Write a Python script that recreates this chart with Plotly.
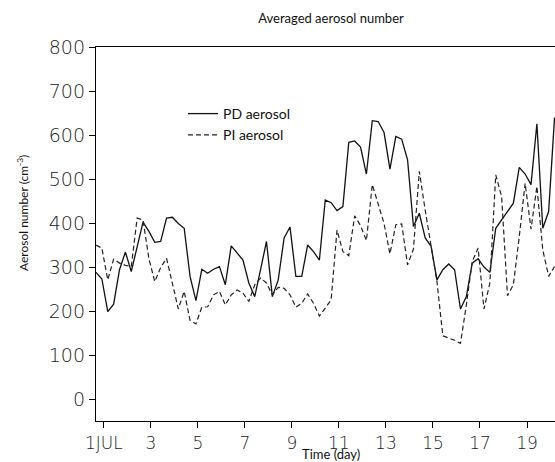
import plotly.graph_objects as go

# time axis: 6-hourly samples (day of July)
t_start = 0.67
t_step = 0.25

pd_aerosol = [289, 274, 200, 217, 295, 335, 291, 350, 403, 382,
              357, 359, 412, 414, 400, 389, 280, 225, 296, 287,
              296, 302, 261, 349, 334, 317, 265, 234, 296, 359,
              234, 272, 367, 392, 280, 280, 351, 336, 317, 453,
              447, 429, 438, 584, 587, 573, 512, 633, 631, 606,
              523, 597, 591, 544, 393, 423, 367, 348, 272, 295,
              308, 295, 206, 234, 310, 320, 301, 289, 389, 408,
              429, 446, 527, 512, 488, 626, 389, 427, 640]

pi_aerosol = [351, 344, 272, 319, 310, 305, 302, 412, 408, 320,
              268, 300, 321, 260, 206, 246, 180, 172, 210, 211,
              238, 246, 215, 238, 249, 242, 223, 261, 276, 265,
              238, 255, 253, 238, 210, 219, 240, 219, 190, 208,
              227, 385, 336, 327, 417, 395, 361, 488, 445, 400,
              331, 397, 399, 306, 342, 518, 430, 350, 268, 145,
              140, 135, 128, 215, 314, 344, 206, 265, 510, 461,
              236, 261, 370, 491, 387, 484, 340, 280, 302]

times = [t_start + t_step * i for i in range(len(pd_aerosol))]

x_tickvals = [1, 3, 5, 7, 9, 11, 13, 15, 17, 19]
x_ticktext = ["1JUL", "3", "5", "7", "9", "11", "13", "15", "17", "19"]
y_tickvals = [0, 100, 200, 300, 400, 500, 600, 700, 800]

fig = go.Figure()
fig.add_trace(go.Scatter(x=times, y=pd_aerosol, mode="lines", name="PD aerosol",
                         line=dict(color="#111111", width=1.3)))
fig.add_trace(go.Scatter(x=times, y=pi_aerosol, mode="lines", name="PI aerosol",
                         line=dict(color="#222222", width=1.2, dash="5px,3px")))

W, H = 555, 462
L, R, T, B = 96, 0, 47, 41
pw, ph = W - L - R, H - T - B


def px_x(x):
    return (x - L) / pw


def px_y(y):
    return ((T + ph) - y) / ph


fig.update_layout(
    width=W, height=H,
    margin=dict(l=L, r=R, t=T, b=B, autoexpand=False),
    paper_bgcolor="white", plot_bgcolor="white",
    title=dict(text="Averaged aerosol number", x=331 / W, xanchor="center",
               y=1 - 18 / H, yanchor="middle",
               font=dict(family="Lato", size=13, color="#111111")),
    showlegend=True,
    legend=dict(x=px_x(183), y=px_y(98), xanchor="left", yanchor="top",
                bgcolor="rgba(0,0,0,0)", font=dict(family="Lato", size=14, color="#111111"),
                tracegroupgap=0),
    xaxis=dict(range=[0.67, 20.19], tickvals=x_tickvals, ticktext=x_ticktext,
               automargin=False,
               showline=True, linecolor="black", linewidth=1.3, mirror=True,
               ticks="outside", ticklen=6, tickcolor="black", tickwidth=1,
               showgrid=False, zeroline=False,
               tickfont=dict(family="DejaVu Sans", size=17, color="#222222", weight=200)),
    yaxis=dict(range=[-48, 800], tickvals=y_tickvals, automargin=False,
               showline=True, linecolor="black", linewidth=1.3,
               ticks="outside", ticklen=6, tickcolor="black", tickwidth=1,
               showgrid=False, zeroline=False,
               tickfont=dict(family="DejaVu Sans", size=19, color="#222222", weight=200)),
    annotations=[
        dict(text="Time (day)", xref="paper", yref="paper",
             x=px_x(331), y=px_y(454),
             xanchor="center", yanchor="middle", showarrow=False,
             font=dict(family="Lato", size=13, color="#111111")),
        dict(text="Aerosol number (cm<sup>-3</sup>)", xref="paper", yref="paper",
             x=px_x(23), y=px_y(213), textangle=-90,
             xanchor="center", yanchor="middle", showarrow=False,
             font=dict(family="Lato", size=12, color="#111111")),
    ],
)

# remove the browser's default 8px body margin so the figure fills the window exactly
fig.write_html(
    "out.html",
    config={"displayModeBar": False},
    post_script="document.body.style.margin='0';document.body.style.overflow='hidden';",
)
